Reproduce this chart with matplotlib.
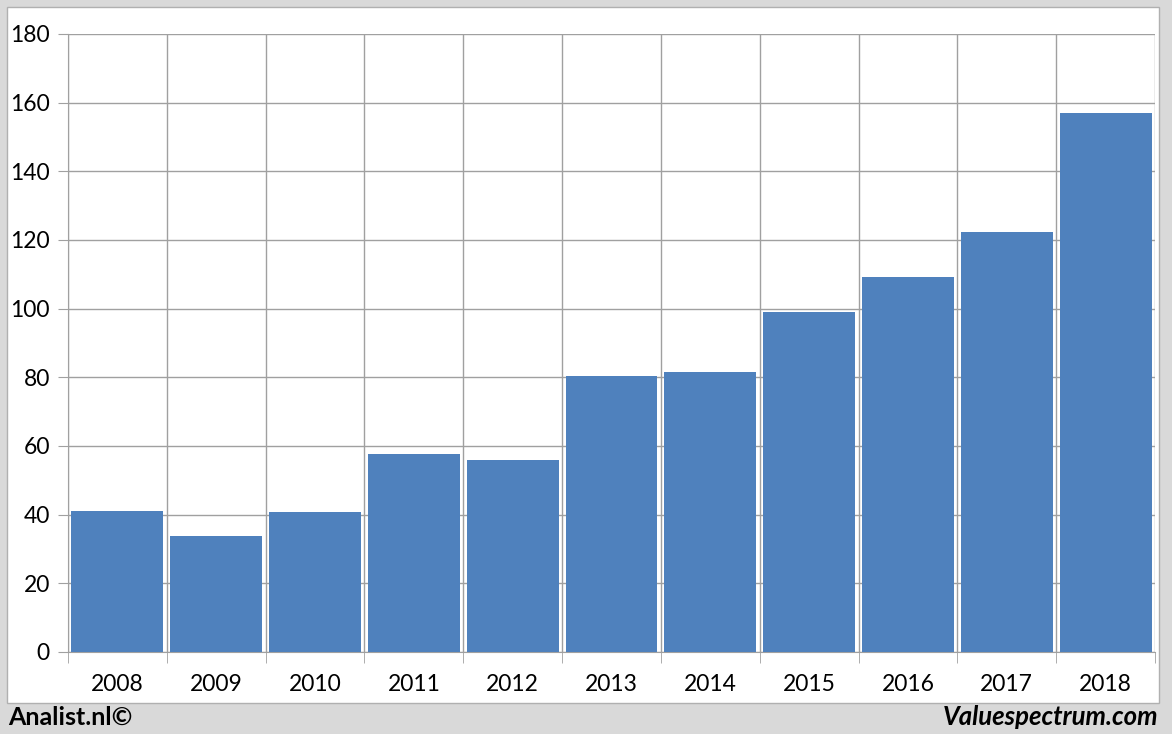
import matplotlib.pyplot as plt
from matplotlib.patches import Rectangle

years = ["2008", "2009", "2010", "2011", "2012", "2013", "2014", "2015", "2016", "2017", "2018"]
values = [41.1, 33.8, 40.8, 57.7, 55.9, 80.4, 81.6, 99.0, 109.2, 122.3, 157.0]
y_ticks = [0, 20, 40, 60, 80, 100, 120, 140, 160, 180]

W, H = 1172, 734
fig = plt.figure(figsize=(W / 100, H / 100), dpi=100)
fig.patch.set_facecolor("#d9d9d9")
plt.rcParams["font.family"] = ["Lato", "DejaVu Sans"]

# white panel behind the chart
fig.patches.append(Rectangle((7 / W, 1 - 703 / H), (1159 - 7) / W, (703 - 7) / H,
                             transform=fig.transFigure, facecolor="white",
                             edgecolor="#b0b0b0", linewidth=1, zorder=-10))

ax = fig.add_axes([68 / W, 1 - 652 / H, (1155 - 68) / W, (652 - 34) / H])
ax.set_facecolor("none")
x = list(range(len(years)))
ax.bar(x, values, width=0.93, color="#4f81bd", zorder=3)

ax.set_xlim(-0.5, len(years) - 0.5)
ax.set_ylim(0, 180)
ax.set_yticks(y_ticks)
ax.set_yticklabels([str(v) for v in y_ticks], fontsize=16.5)
ax.set_xticks(x)
ax.set_xticklabels(years, fontsize=16.5)
ax.set_xticks([i - 0.5 for i in range(len(years) + 1)], minor=True)

ax.grid(axis="y", color="#a0a0a0", linewidth=1, zorder=1)
ax.grid(axis="x", which="minor", color="#a0a0a0", linewidth=1, zorder=1)
ax.tick_params(axis="x", which="major", length=0, pad=16)
ax.tick_params(axis="x", which="minor", length=8, color="#a0a0a0")
ax.tick_params(axis="y", length=7, color="#a0a0a0", pad=6)
for s in ["top", "right"]:
    ax.spines[s].set_visible(False)
ax.spines["left"].set_color("#a0a0a0")
ax.spines["bottom"].set_color("#a0a0a0")

fig.text(8 / W, 1 - 717 / H, "Analist.nl©", fontsize=18, fontweight="bold",
         ha="left", va="center")
fig.text(1158 / W, 1 - 717 / H, "Valuespectrum.com", fontsize=18.5, fontweight="bold",
         fontstyle="italic", ha="right", va="center")

fig.savefig("out.png", dpi=100, facecolor=fig.get_facecolor())
